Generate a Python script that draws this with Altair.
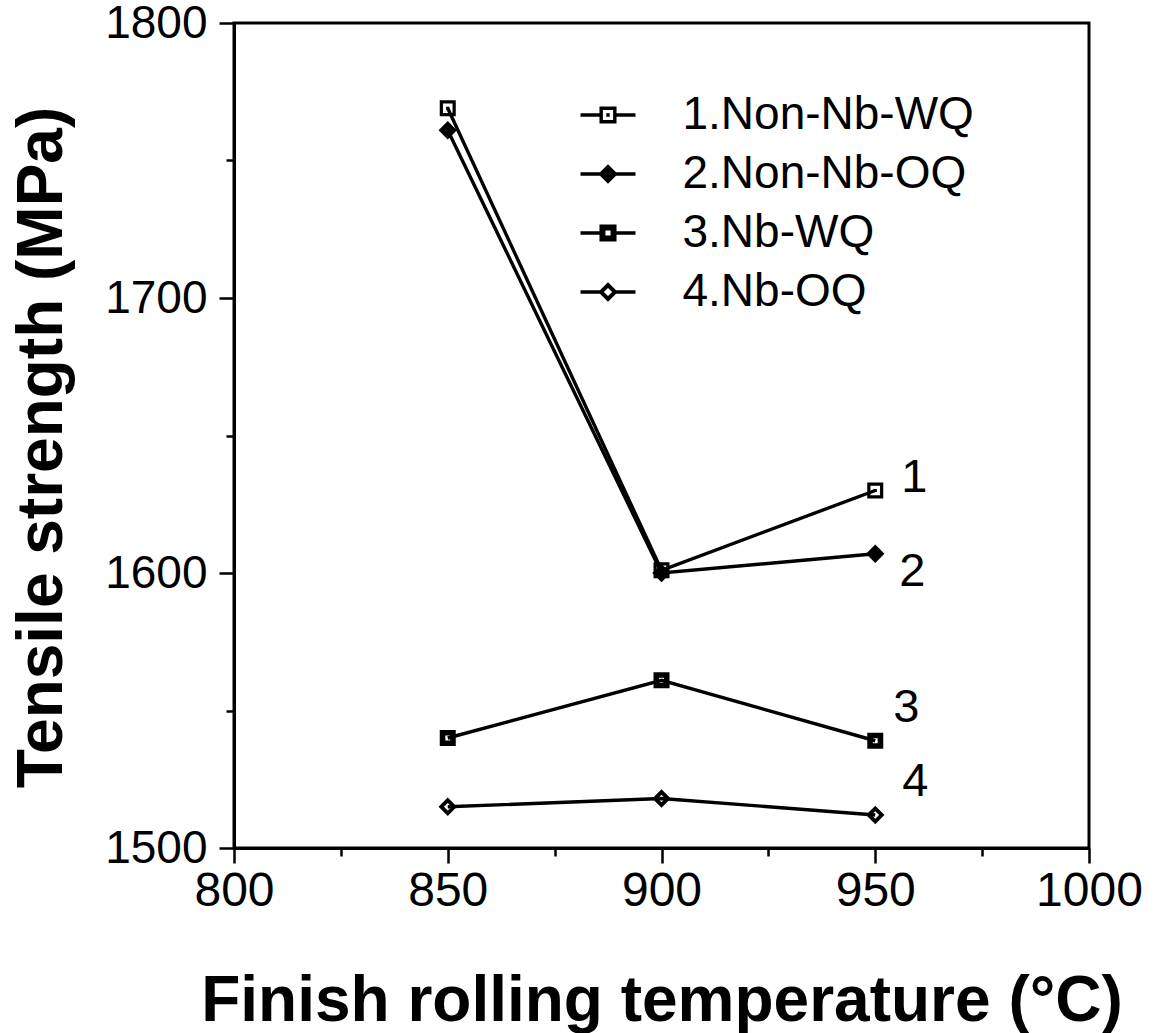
import altair as alt
import pandas as pd

# ---- data ----
temps = [850, 900, 950]
series_names = ["1.Non-Nb-WQ", "2.Non-Nb-OQ", "3.Nb-WQ", "4.Nb-OQ"]
s1_values = [1769, 1601, 1630]
s2_values = [1761, 1600, 1607]
s3_values = [1540, 1561, 1539]
s4_values = [1515, 1518, 1512]
end_labels = ["1", "2", "3", "4"]
x_ticks = [800, 850, 900, 950, 1000]
x_minor = [825, 875, 925, 975]
y_ticks = [1500, 1600, 1700, 1800]
y_minor = [1550, 1650, 1750]

all_values = [s1_values, s2_values, s3_values, s4_values]
rows = []
for name, vals in zip(series_names, all_values):
    for t, v in zip(temps, vals):
        rows.append({"series": name, "temp": t, "value": v})
df = pd.DataFrame(rows)

lab_df = pd.DataFrame({
    "label": end_labels,
    "temp": [temps[-1]] * 4,
    "value": [v[-1] for v in all_values],
})

# ---- marker shapes (styles, fill-only paths with holes) ----
def f(v):
    return f"{v:.3f}"

def rect(x0, y0, x1, y1, ccw=False):
    if not ccw:
        return f"M{f(x0)},{f(y0)}L{f(x1)},{f(y0)}L{f(x1)},{f(y1)}L{f(x0)},{f(y1)}Z"
    return f"M{f(x0)},{f(y0)}L{f(x0)},{f(y1)}L{f(x1)},{f(y1)}L{f(x1)},{f(y0)}Z"

def sq(h, ccw=False):
    return rect(-h, -h, h, h, ccw)

def dm(h, ccw=False):
    if not ccw:
        return f"M0,{f(-h)}L{f(h)},0L0,{f(h)}L{f(-h)},0Z"
    return f"M0,{f(-h)}L{f(-h)},0L0,{f(h)}L{f(h)},0Z"

def marker_paths(k):
    return [
        sq(1 * k) + sq(0.6 * k, True) + sq(0.2 * k),
        dm(1.15 * k),
        sq(1 * k) + sq(0.3 * k, True),
        dm(1.15 * k) + dm(0.48 * k, True),
    ]

plot_shapes = marker_paths(1.0)
lk = 0.31
lt = 0.06
legend_shapes = [
    rect(-1, -lt, -0.9 * lk, lt) + rect(0.9 * lk, -lt, 1, lt) + p
    for p in marker_paths(lk)
]

FONT = "Liberation Sans"
xscale = alt.Scale(domain=[800, 1000], nice=False, zero=False)
yscale = alt.Scale(domain=[1500, 1800], nice=False, zero=False)

base = alt.Chart(df)

lines = base.mark_line(color="black", strokeWidth=3.4).encode(
    x=alt.X("temp:Q", scale=xscale, axis=alt.Axis(
        orient="bottom", values=x_ticks, format="d", tickSize=15,
        tickWidth=2.5, tickColor="black", domainColor="black",
        domainWidth=3, grid=False,
        labelFont=FONT, labelFontSize=48, labelColor="black", labelPadding=4,
        labelFlush=False, labelOverlap=False,
        title="Finish rolling temperature (°C)", titleFont=FONT,
        titleFontSize=64, titleFontWeight="bold", titleColor="black",
        titleX=427.5, titleY=172, titleBaseline="alphabetic",
        titleAnchor="middle", titleAlign="center")),
    y=alt.Y("value:Q", scale=yscale, axis=alt.Axis(
        orient="left", values=y_ticks, format="d", tickSize=15,
        tickWidth=2.5, tickColor="black", domainColor="black",
        domainWidth=3, grid=False,
        labelFont=FONT, labelFontSize=46, labelColor="black", labelPadding=12,
        labelFlush=False, labelOverlap=False,
        title="Tensile strength (MPa)", titleFont=FONT, titleFontSize=64,
        titleFontWeight="bold", titleColor="black", titleAngle=270,
        titleX=-192, titleY=424, titleBaseline="middle",
        titleAlign="center")),
    detail="series:N",
)

points = base.mark_point(filled=True, color="black", opacity=1,
                         size=256).encode(
    x=alt.X("temp:Q", scale=xscale, axis=alt.Axis(
        orient="bottom", values=x_minor, tickSize=8, tickWidth=2.5,
        tickColor="black", labels=False, domain=False, grid=False, title=None)),
    y=alt.Y("value:Q", scale=yscale, axis=alt.Axis(
        orient="left", values=y_minor, tickSize=8, tickWidth=2.5,
        tickColor="black", labels=False, domain=False, grid=False, title=None)),
    shape=alt.Shape("series:N", scale=alt.Scale(domain=series_names,
                                                range=plot_shapes),
                    legend=None),
)

legend_layer = base.transform_filter("datum.temp < 0").mark_point(
    filled=True, color="black", size=3025).encode(
    x=alt.X("temp:Q", scale=xscale, axis=None),
    y=alt.Y("value:Q", scale=yscale, axis=None),
    shape=alt.Shape("series:N", scale=alt.Scale(domain=series_names,
                                                range=legend_shapes),
                    legend=alt.Legend(
                        title=None, orient="none", legendX=346.5, legendY=64.5,
                        labelFont=FONT, labelFontSize=46, labelColor="black",
                        labelLimit=600, labelOffset=47, symbolSize=3025,
                        symbolStrokeWidth=0, symbolFillColor="black",
                        symbolOpacity=1, rowPadding=8, padding=0)),
)

offsets = {"1": (39, -13), "2": (37, 18), "3": (31, -33), "4": (40, -33)}
label_layers = []
for lab in end_labels:
    dx, dy = offsets[lab]
    label_layers.append(
        alt.Chart(lab_df).transform_filter(f"datum.label == '{lab}'")
        .mark_text(font=FONT, fontSize=47, color="black", align="center",
                   baseline="middle", dx=dx, dy=dy)
        .encode(x=alt.X("temp:Q", scale=xscale, axis=None),
                y=alt.Y("value:Q", scale=yscale, axis=None),
                text="label:N")
    )

chart = alt.layer(lines, points, legend_layer, *label_layers).resolve_scale(
    shape="independent").resolve_axis(x="independent", y="independent"
).properties(
    width=855, height=825,
    autosize=alt.AutoSizeParams(type="none"),
    padding={"left": 234, "top": 23, "right": 77, "bottom": 185},
    background="white",
).configure_view(stroke="black", strokeWidth=3)

chart.save("out.html", embed_options={"renderer": "svg", "actions": False})
